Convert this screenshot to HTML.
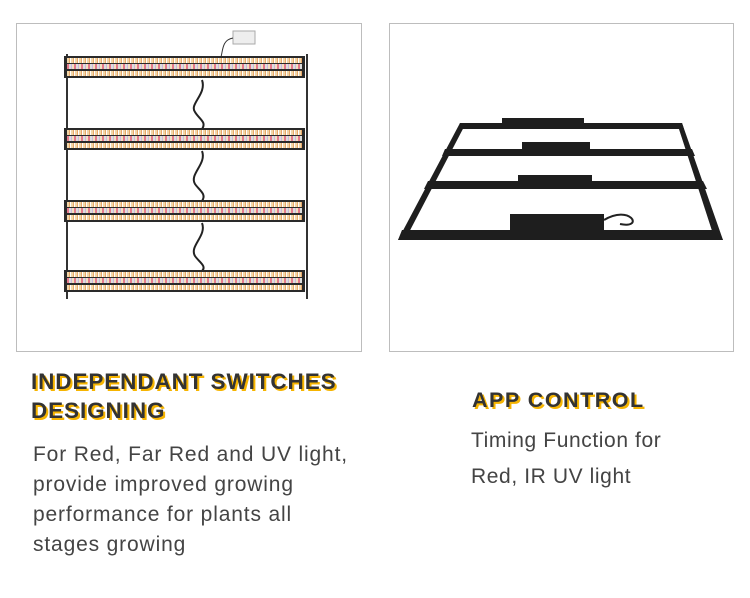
<!DOCTYPE html>
<html><head><style>
body{margin:0;width:750px;height:598px;background:#fff;position:relative;font-family:"Liberation Sans",sans-serif;overflow:hidden}
.box{position:absolute;border:1px solid #bdbdbd;background:#fff}
.bar{position:absolute;left:64px;width:241px;height:22px;background:#2a2a2a;}
.bar i{position:absolute;left:3px;right:3px;height:5px;background:repeating-linear-gradient(90deg,#f1d6a8 0 2px,#e8a86a 2px 3px,#fff 3px 4px)}
.bar b{position:absolute;left:3px;right:3px;top:8px;height:5px;background:repeating-linear-gradient(90deg,#e57a8a 0 2px,#ddd 2px 4px,#c9b8e0 4px 5px,#f3e0c0 5px 7px)}
h2{position:absolute;margin:0;font-size:21.5px;font-weight:bold;color:#333;text-shadow:2px 2px 0 #f6b400;letter-spacing:0.1px;line-height:29px}
p{position:absolute;margin:0;font-size:21px;color:#444;line-height:30px;letter-spacing:0.85px}
</style></head><body>
<div class="box" style="left:16px;top:23px;width:344px;height:327px">
<svg width="344" height="327" style="position:absolute;left:0;top:0">
<line x1="50" y1="30" x2="50" y2="275" stroke="#333" stroke-width="2"/>
<line x1="290" y1="30" x2="290" y2="275" stroke="#333" stroke-width="2"/>
<rect x="216" y="7" width="22" height="13" fill="#eee" stroke="#aaa"/>
<path d="M216 14 C205 16 206 26 204 33" stroke="#333" fill="none"/>
<path d="M185 56 C190 70 172 80 178 88 C182 95 190 98 185 105" stroke="#222" fill="none" stroke-width="2"/>
<path d="M185 127 C190 140 172 150 178 160 C182 166 190 170 185 177" stroke="#222" fill="none" stroke-width="2"/>
<path d="M185 199 C190 212 172 222 178 232 C182 238 190 242 185 247" stroke="#222" fill="none" stroke-width="2"/>
</svg>
</div>
<div class="bar" style="top:56px"><i style="top:2px"></i><b></b><i style="top:15px"></i></div>
<div class="bar" style="top:128px"><i style="top:2px"></i><b></b><i style="top:15px"></i></div>
<div class="bar" style="top:200px"><i style="top:2px"></i><b></b><i style="top:15px"></i></div>
<div class="bar" style="top:270px"><i style="top:2px"></i><b></b><i style="top:15px"></i></div>
<div class="box" style="left:389px;top:23px;width:343px;height:327px">
<svg width="343" height="327" style="position:absolute;left:0;top:0">
<g fill="#1e1e1e">
<polygon points="70,99 292,99 294,105 68,105"/>
<polygon points="55,125 302,125 305,132 52,132"/>
<polygon points="38,157 313,157 317,165 34,165"/>
<polygon points="12,206 328,206 333,216 8,216"/>
<polygon points="70,99 76,99 15,216 8,216"/>
<polygon points="287,99 292,99 333,216 325,216"/>
<rect x="112" y="94" width="82" height="11"/>
<rect x="132" y="118" width="68" height="12"/>
<rect x="128" y="151" width="74" height="13"/>
<rect x="120" y="190" width="94" height="26"/>
</g>
<path d="M214 196 C240 180 255 205 230 200" stroke="#222" fill="none" stroke-width="2"/>
</svg>
</div>
<h2 style="left:31px;top:367px;font-size:22.5px;letter-spacing:0.9px">INDEPENDANT SWITCHES<br>DESIGNING</h2>
<p style="left:33px;top:440px">For Red, Far Red and UV light,<br>provide improved growing<br>performance for plants all<br>stages growing</p>
<h2 style="left:472px;top:386px;letter-spacing:1.5px">APP CONTROL</h2>
<p style="left:471px;top:423px;line-height:36px;letter-spacing:0.6px">Timing Function for<br>Red, IR UV light</p>
</body></html>
